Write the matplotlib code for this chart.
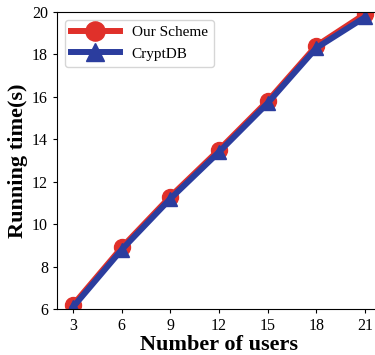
import matplotlib
matplotlib.use("Agg")
from matplotlib import pyplot as plt

# number of users vs running time
users = [3, 6, 9, 12, 15, 18, 21]
our_scheme = [6.2, 8.9, 11.3, 13.5, 15.8, 18.4, 19.9]
cryptdb = [6.1, 8.8, 11.2, 13.4, 15.7, 18.3, 19.75]

plt.rcParams['font.family'] = ['Liberation Serif', 'DejaVu Serif']

fig = plt.figure(figsize=(3.75, 3.55), dpi=100)
ax = fig.add_axes([0.152, 0.1296, 0.864, 0.8366])

ax.plot(users, our_scheme, color='#e0302a', linewidth=4.3, marker='o',
        markersize=11.5, label='Our Scheme')
ax.plot(users, cryptdb, color='#2b3d9e', linewidth=4.3, marker='^',
        markersize=10.5, label='CryptDB')

ax.set_xlim(2, 22)
ax.set_ylim(6, 20)
ax.set_xticks(users)
ax.set_yticks([6, 8, 10, 12, 14, 16, 18, 20])
ax.spines['right'].set_visible(False)
ax.tick_params(labelsize=11.5, length=3, width=0.8)
ax.set_xlabel('Number of users', fontsize=16, fontweight='bold', labelpad=1)
ax.set_ylabel('Running time(s)', fontsize=16, fontweight='bold', labelpad=3)

ax.legend(loc='upper left', fontsize=11, handlelength=3.2, borderaxespad=0.5,
          markerscale=1.2)

fig.savefig('out.png', dpi=100)
